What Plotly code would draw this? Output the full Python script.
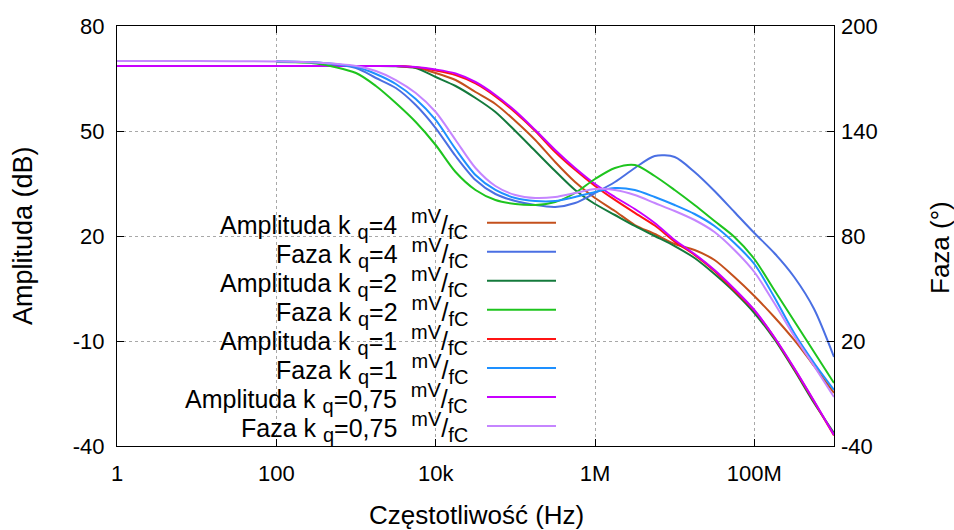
import plotly.graph_objects as go

# Frequencies (Hz)
freq_lo = [1, 10]
freq = [100, 316, 1000, 1778, 3162, 5623, 10000, 17783, 31623, 56234,
        100000, 177828, 316228, 562341, 1000000, 1778279, 3162278, 5623413,
        10000000, 17782794, 31622777, 56234133, 100000000, 177827941,
        316227766, 562341325, 1000000000]

# Amplitude (dB)
amp_k4 = [68.57, 68.57, 68.57, 68.57, 68.57, 68.14, 66.57, 64.57, 61.14, 57.71,
          52.86, 47.43, 41.14, 35.43, 30.86, 27.14, 23.14, 20.57, 17.71, 16.0,
          13.14, 8.29, 2.86, -3.14, -9.71, -17.14, -24.86]
amp_k2 = [68.57, 68.57, 68.57, 68.57, 68.5, 68.0, 65.43, 62.86, 59.43, 55.43,
          50.0, 44.29, 38.57, 33.14, 29.14, 26.0, 22.86, 20.0, 17.14, 13.71,
          9.14, 4.0, -2.0, -9.43, -18.29, -27.71, -36.29]
amp_k1 = [68.57, 68.57, 68.57, 68.57, 68.57, 68.2, 67.3, 66.0, 63.6, 59.9,
          55.3, 50.0, 44.0, 38.9, 34.3, 30.3, 26.6, 23.0, 18.4, 14.6,
          10.0, 4.4, -1.3, -9.0, -17.9, -27.3, -37.0]
amp_k075 = [68.57, 68.57,
            68.57, 68.57, 68.57, 68.57, 68.57, 68.29, 67.57, 66.43, 64.0, 60.29,
            55.71, 50.29, 44.57, 39.43, 34.86, 31.14, 27.71, 23.71, 18.86, 14.86,
            10.29, 4.86, -1.14, -8.86, -17.71, -27.14, -36.86]

# Phase (deg)
ph_k4 = [179.71, 179.14, 176.0, 170.29, 164.57, 154.86, 141.71, 125.71, 112.0, 104.0,
         100.0, 97.71, 96.57, 98.86, 104.57, 110.86, 118.86, 125.71, 125.14, 116.57,
         105.71, 93.71, 81.71, 70.29, 56.57, 38.29, 10.86]
ph_k2 = [179.43, 178.57, 173.14, 165.71, 156.0, 145.14, 132.0, 116.57, 106.29, 100.57,
         98.29, 97.71, 99.43, 104.57, 112.57, 118.86, 120.57, 114.29, 106.29, 97.71,
         88.57, 79.43, 66.86, 49.14, 31.43, 13.71, -4.0]
ph_k1 = [179.71, 179.14, 176.57, 172.57, 166.86, 158.29, 146.29, 129.71, 114.86, 106.29,
         101.71, 100.0, 100.0, 102.29, 105.14, 107.43, 106.29, 102.29, 97.71, 92.57,
         85.71, 76.0, 64.0, 45.14, 24.57, 7.43, -8.0]
ph_k075 = [180.0, 180.0,
           179.71, 179.14, 177.14, 174.29, 169.14, 161.71, 150.86, 134.86, 118.86, 108.57,
           103.43, 101.71, 102.29, 104.57, 106.86, 106.29, 103.43, 98.86, 94.29, 89.14,
           82.29, 72.0, 59.43, 41.71, 22.86, 5.71, -12.0]

x_ticks = [1, 100, 10000, 1000000, 100000000]
x_tick_labels = ["1", "100", "10k", "1M", "100M"]
y1_ticks = [-40, -10, 20, 50, 80]
y1_tick_labels = ["-40", "-10", "20", "50", "80"]
y2_ticks = [-40, 20, 80, 140, 200]
y2_tick_labels = ["-40", "20", "80", "140", "200"]

labels_main = ["Amplituda", "Faza", "Amplituda", "Faza",
               "Amplituda", "Faza", "Amplituda", "Faza"]
labels_k = ["4", "4", "2", "2", "1", "1", "0,75", "0,75"]
colors = ["#c4501c", "#4a6fe3", "#147a3c", "#1ec41e",
          "#ff1414", "#1e90ff", "#c800ff", "#c585ff"]

series = [
    (freq, amp_k4, "y"),
    (freq, ph_k4, "y2"),
    (freq, amp_k2, "y"),
    (freq, ph_k2, "y2"),
    (freq, amp_k1, "y"),
    (freq, ph_k1, "y2"),
    (freq_lo + freq, amp_k075, "y"),
    (freq_lo + freq, ph_k075, "y2"),
]

FONT = "Liberation Sans, Arial, Helvetica, sans-serif"
SS = '<span style="font-size:20px">'

def label(main, k):
    return (f"{main} k <sub>{SS}q</span></sub>={k}  "
            f"<sup>{SS}mV</span></sup>/<sub>{SS}fC</span></sub>")

names = [label(m, k) for m, k in zip(labels_main, labels_k)]

fig = go.Figure()
for (xs, ys, ax), nm, col in zip(series, names, colors):
    fig.add_trace(go.Scatter(x=xs, y=ys, yaxis=ax, mode="lines", name=nm,
                             line=dict(color=col, width=2, shape="spline", smoothing=0.8),
                             showlegend=False))

# plot area in pixels
L, R, T, B = 117, 834, 26, 446
W, H = 954, 530
def px(x):
    return (x - L) / (R - L)
def py(y):
    return (B - y) / (B - T)

shapes = [dict(type="rect", xref="paper", yref="paper",
               x0=px(170), x1=px(572), y0=py(442), y1=py(201),
               fillcolor="white", line=dict(width=0), layer="between")]
annotations = []
row0, step = 222.7, 29.05
for i, (nm, col) in enumerate(zip(names, colors)):
    yy = row0 + i * step
    annotations.append(dict(xref="paper", yref="paper", x=px(470), y=py(yy + 1),
                            text=nm, showarrow=False, xanchor="right", yanchor="middle",
                            font=dict(family=FONT, size=25, color="black")))
    shapes.append(dict(type="line", xref="paper", yref="paper",
                       x0=px(487), x1=px(556), y0=py(yy), y1=py(yy),
                       line=dict(color=col, width=2), layer="above"))

annotations += [
    dict(xref="paper", yref="paper", x=px(476), y=py(515), text="Częstotliwość (Hz)",
         showarrow=False, xanchor="center", yanchor="middle",
         font=dict(family=FONT, size=26, color="black")),
    dict(xref="paper", yref="paper", x=px(23), y=py(236), text="Amplituda (dB)",
         textangle=-90, showarrow=False, xanchor="center", yanchor="middle",
         font=dict(family=FONT, size=27, color="black")),
    dict(xref="paper", yref="paper", x=px(940), y=py(248), text="Faza (°)",
         textangle=-90, showarrow=False, xanchor="center", yanchor="middle",
         font=dict(family=FONT, size=26, color="black")),
]

fig.update_layout(
    width=W, height=H,
    margin=dict(l=L, r=W - R, t=T, b=H - B, pad=0),
    plot_bgcolor="white", paper_bgcolor="white",
    showlegend=False,
    font=dict(family=FONT, size=22, color="black"),
    shapes=shapes, annotations=annotations,
    xaxis=dict(type="log", range=[0, 9], tickvals=x_ticks, ticktext=x_tick_labels,
               ticks="inside", ticklen=7, tickcolor="black", showline=True,
               linecolor="black", linewidth=1, mirror="ticks",
               showgrid=True, gridcolor="#a8a8a8", griddash="dot", gridwidth=1,
               zeroline=False, ticklabelstandoff=8),
    yaxis=dict(range=[-40, 80], tickvals=y1_ticks, ticktext=y1_tick_labels,
               ticks="inside", ticklen=7,
               tickcolor="black", showline=True, linecolor="black", linewidth=1,
               mirror=True, showgrid=True, gridcolor="#a8a8a8", griddash="dot",
               gridwidth=1, zeroline=False, ticklabelstandoff=7),
    yaxis2=dict(range=[-40, 200], tickvals=y2_ticks, ticktext=y2_tick_labels,
                overlaying="y", side="right",
                ticks="inside", ticklen=7, tickcolor="black", showline=False,
                showgrid=False, zeroline=False, ticklabelstandoff=6),
)

fig.write_html("out.html")
